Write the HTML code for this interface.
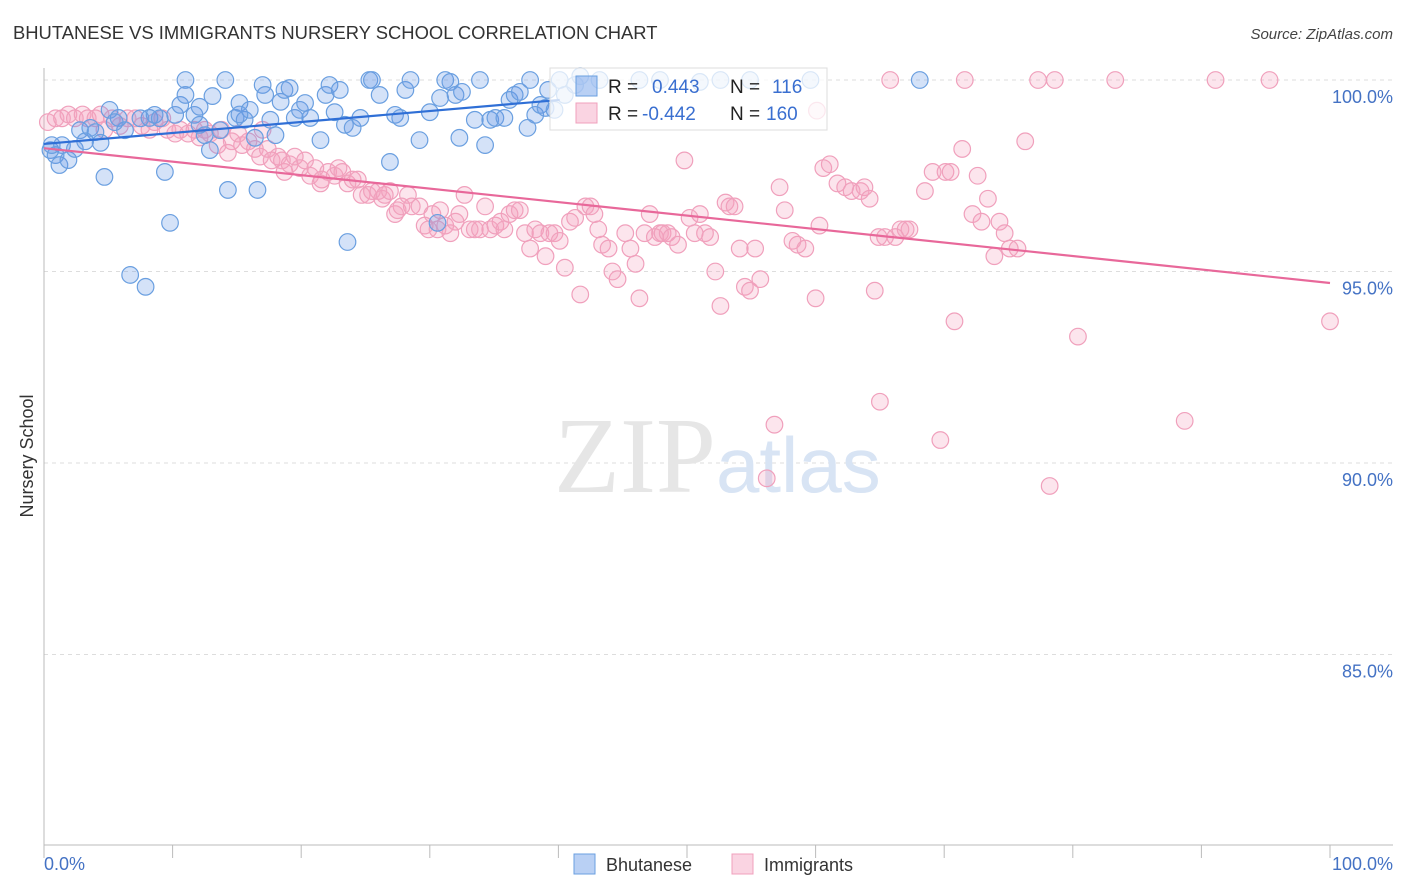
<!DOCTYPE html>
<html><head><meta charset="utf-8"><style>
body{margin:0;background:#fff;font-family:"Liberation Sans",sans-serif}
svg{display:block}
</style></head><body>
<svg id="chart" width="1406" height="892" xmlns="http://www.w3.org/2000/svg">
<text x="13" y="39" font-size="18.4" fill="#333" font-family="Liberation Sans">BHUTANESE VS IMMIGRANTS NURSERY SCHOOL CORRELATION CHART</text>
<text x="1393" y="39" font-size="15" fill="#444" text-anchor="end" font-style="italic">Source: ZipAtlas.com</text>
<text transform="translate(33,456) rotate(-90)" font-size="18" fill="#333" text-anchor="middle">Nursery School</text>
<g id="grid"></g>
<g id="axes"></g>
<text x="716" y="492" font-size="108" text-anchor="end" fill="#e6e6e6" font-family="Liberation Serif">ZIP</text>
<text x="716" y="492" font-size="78" fill="#d8e4f4">atlas</text>
<g id="pts"></g>
<g id="lines"></g>
<g>
<rect x="550" y="68" width="277" height="62" fill="rgba(255,255,255,0.75)" stroke="#ddd"/>
<rect x="576" y="76" width="21" height="20" fill="rgba(100,150,230,0.45)" stroke="#6a9fe0"/>
<rect x="576" y="103" width="21" height="20" fill="rgba(245,160,190,0.45)" stroke="#f0a0bc"/>
<text x="608" y="93" font-size="19" fill="#222">R = </text><text x="652" y="93" font-size="19" fill="#3a6fd0">0.443</text>
<text x="730" y="93" font-size="19" fill="#222">N = </text><text x="772" y="93" font-size="19" fill="#3a6fd0">116</text>
<text x="608" y="120" font-size="19" fill="#222">R = </text><text x="642" y="120" font-size="19" fill="#3a6fd0">-0.442</text>
<text x="730" y="120" font-size="19" fill="#222">N = </text><text x="766" y="120" font-size="19" fill="#3a6fd0">160</text>
</g>
<g>
<rect x="574" y="854" width="21" height="20" fill="rgba(100,150,230,0.45)" stroke="#6a9fe0"/>
<text x="606" y="871" font-size="18" fill="#333">Bhutanese</text>
<rect x="732" y="854" width="21" height="20" fill="rgba(245,160,190,0.45)" stroke="#f0a0bc"/>
<text x="764" y="871" font-size="18" fill="#333">Immigrants</text>
</g>
</svg>
<script>
const yTicks=[100,95,90,85];
const yTickLabels=["100.0%","95.0%","90.0%","85.0%"];
const xEndLabels=["0.0%","100.0%"];
const blueX=[0.5,0.9,1.2,1.9,0.6,2.8,3.6,4.0,4.4,4.7,5.1,5.8,6.3,6.7,7.9,8.2,8.6,9.4,9.8,10.2,10.6,11.0,11.0,11.7,12.1,12.5,12.9,13.1,13.7,14.1,14.3,14.9,15.2,15.6,16.0,16.4,16.6,17.0,17.2,17.6,18.0,18.4,18.7,19.1,19.5,19.9,20.3,20.7,21.5,21.9,22.2,22.6,23.0,23.4,23.6,24.0,24.6,25.3,25.5,26.1,26.9,27.3,27.7,28.1,28.5,29.2,30.0,30.6,30.8,31.2,31.6,32.0,32.3,32.5,33.5,33.9,34.3,34.7,35.1,35.8,36.2,36.6,37.0,37.6,37.8,38.2,38.6,39.0,39.2,39.7,40.1,40.5,41.3,41.7,43.2,46.3,47.9,51.0,52.6,54.9,59.6,68.1,1.4,2.4,3.2,5.5,7.5,9.0,12.1,15.2];
const blueY=[98.17,98.04,97.78,97.91,98.30,98.69,98.75,98.64,98.36,97.47,99.22,99.01,98.69,94.91,94.60,99.01,99.09,97.60,96.27,99.09,99.35,100,99.61,99.09,98.83,98.56,98.17,99.58,98.69,100,97.13,99.01,99.40,98.96,99.22,98.49,97.13,99.87,99.61,98.96,98.56,99.43,99.74,99.79,99.01,99.22,99.40,99.01,98.43,99.61,99.87,99.16,99.74,98.83,95.77,98.75,99.01,100,100,99.61,97.86,99.09,99.01,99.74,100,98.43,99.16,96.27,99.53,100,99.95,99.61,98.49,99.69,98.96,100,98.30,98.96,99.01,99.01,99.48,99.61,99.69,98.75,100,99.09,99.35,99.27,99.74,99.22,100,99.61,99.87,100.1,100,100,100,99.95,100,100,100,100,98.3,98.2,98.4,98.9,99.0,99.0,99.3,99.1];
const pinkX=[0.3,0.9,1.4,1.9,2.4,3.0,3.4,4.0,4.4,4.7,5.3,5.9,6.5,7.1,7.6,8.2,8.6,9.2,9.6,10.2,10.6,11.2,11.7,12.1,12.5,12.9,13.5,13.8,14.3,14.6,15.1,15.4,15.9,16.4,16.8,17.0,17.4,17.7,18.2,18.5,18.7,19.1,19.5,19.9,20.3,20.7,21.1,21.5,21.6,22.1,22.6,22.9,23.2,23.6,24.0,24.4,24.7,25.2,25.5,26.0,26.3,26.5,26.9,27.3,27.5,27.8,28.3,28.6,29.2,29.6,29.9,30.2,30.6,30.8,31.2,31.6,32.0,32.3,32.7,33.1,33.5,33.9,34.3,34.7,35.1,35.5,35.8,36.2,36.6,37.0,37.4,37.8,38.2,38.6,39.0,39.3,39.7,40.1,40.5,40.9,41.3,41.7,42.1,42.5,42.8,43.1,43.4,43.9,44.2,44.6,45.2,45.6,46.0,46.3,46.7,47.1,47.5,47.9,48.1,48.5,48.8,49.3,49.8,50.2,50.6,51.0,51.4,51.8,52.2,52.6,53.0,53.3,53.7,54.1,54.5,54.9,55.3,55.7,56.2,56.8,57.2,57.6,58.2,58.6,59.2,60.0,60.3,60.6,61.1,61.7,62.3,62.8,63.5,63.8,64.2,64.6,64.9,65.0,65.4,65.8,66.2,66.6,67.0,67.3,68.5,69.1,69.7,70.1,70.5,70.8,71.4,71.6,72.2,72.6,72.9,73.4,73.9,74.3,74.7,75.1,75.7,76.3,77.3,78.2,78.6,80.4,83.3,88.7,91.1,95.3,100,60.1];
const pinkY=[98.9,99.0,99.0,99.1,99.0,99.1,99.0,99.0,99.1,98.7,99.0,98.8,99.0,99.0,98.8,98.7,98.9,99.0,98.7,98.6,98.7,98.6,98.7,98.5,98.7,98.6,98.3,98.7,98.1,98.4,98.6,98.3,98.4,98.2,98.0,98.7,98.2,97.9,98.0,97.9,97.6,97.8,98.0,97.7,97.9,97.5,97.7,97.3,97.4,97.6,97.5,97.7,97.6,97.3,97.4,97.4,97.0,97.0,97.1,97.1,96.9,97.0,97.1,96.5,96.6,96.7,97.0,96.7,96.7,96.2,96.1,96.5,96.1,96.6,96.2,96.0,96.3,96.5,97.0,96.1,96.1,96.1,96.7,96.1,96.2,96.3,96.1,96.5,96.6,96.6,96.0,95.6,96.1,96.0,95.4,96.0,96.0,95.8,95.1,96.3,96.4,94.4,96.7,96.7,96.5,96.1,95.7,95.6,95.0,94.8,96.0,95.6,95.2,94.3,96.0,96.5,95.9,96.0,96.0,96.0,95.9,95.7,97.9,96.4,96.0,96.5,96.0,95.9,95.0,94.1,96.8,96.7,96.7,95.6,94.6,94.5,95.6,94.8,89.6,91.0,97.2,96.6,95.8,95.7,95.6,94.3,96.2,97.7,97.8,97.3,97.2,97.1,97.1,97.2,96.9,94.5,95.9,91.6,95.9,100,95.9,96.1,96.1,96.1,97.1,97.6,90.6,97.6,97.6,93.7,98.2,100,96.5,97.5,96.3,96.9,95.4,96.3,96.0,95.6,95.6,98.4,100,89.4,100,93.3,100,91.1,100,100,93.7,99.2];
const blueTrend=[98.33,99.48], blueTrendX=[0,40.1];
const pinkTrend=[98.22,94.7], pinkTrendX=[0,100];
const NS="http://www.w3.org/2000/svg";
const X=v=>44+v*12.86, Y=v=>80+(100-v)*38.3;
function mk(t,a,p){const e=document.createElementNS(NS,t);for(const k in a)e.setAttribute(k,a[k]);p.appendChild(e);return e;}
const grid=document.getElementById('grid'),axes=document.getElementById('axes');
yTicks.forEach((t,i)=>{
 const l=mk('line',{x1:44,x2:1393,y1:Y(t),y2:Y(t),stroke:'#ddd','stroke-dasharray':'4,4'},grid);
 
 
 const tx=mk('text',{x:1393,y:Y(t)+23,'font-size':18,fill:'#4472c4','text-anchor':'end'},axes);
 tx.textContent=yTickLabels[i];
 
 
});
mk('line',{x1:44,x2:44,y1:68,y2:845,stroke:'#bbb'},axes);
mk('line',{x1:44,x2:1393,y1:845,y2:845,stroke:'#bbb'},axes);
for(let i=0;i<=10;i++){const tk=mk('line',{x1:X(i*10),x2:X(i*10),y1:845,y2:858,stroke:'#bbb'},axes);
 
 }
const xl0=mk('text',{x:44,y:870,'font-size':18,fill:'#4472c4'},axes);xl0.textContent=xEndLabels[0];


const xl1=mk('text',{x:1393,y:870,'font-size':18,fill:'#4472c4','text-anchor':'end'},axes);xl1.textContent=xEndLabels[1];


const pts=document.getElementById('pts');
pinkX.forEach((x,i)=>{const c=mk('circle',{cx:X(x),cy:Y(pinkY[i]),r:8.3,fill:'rgba(245,160,190,0.28)',stroke:'#f0a0bc','stroke-width':1.2},pts);
 
 });
blueX.forEach((x,i)=>{const c=mk('circle',{cx:X(x),cy:Y(blueY[i]),r:8.3,fill:'rgba(100,150,230,0.28)',stroke:'#6a9fe0','stroke-width':1.2},pts);
 
 });
const lines=document.getElementById('lines');
const bl=mk('line',{x1:X(blueTrendX[0]),y1:Y(blueTrend[0]),x2:X(blueTrendX[1]),y2:Y(blueTrend[1]),stroke:'#2f6fd6','stroke-width':2.2},lines);


const pl=mk('line',{x1:X(pinkTrendX[0]),y1:Y(pinkTrend[0]),x2:X(pinkTrendX[1]),y2:Y(pinkTrend[1]),stroke:'#e8689a','stroke-width':2.2},lines);


</script>
</body></html>
